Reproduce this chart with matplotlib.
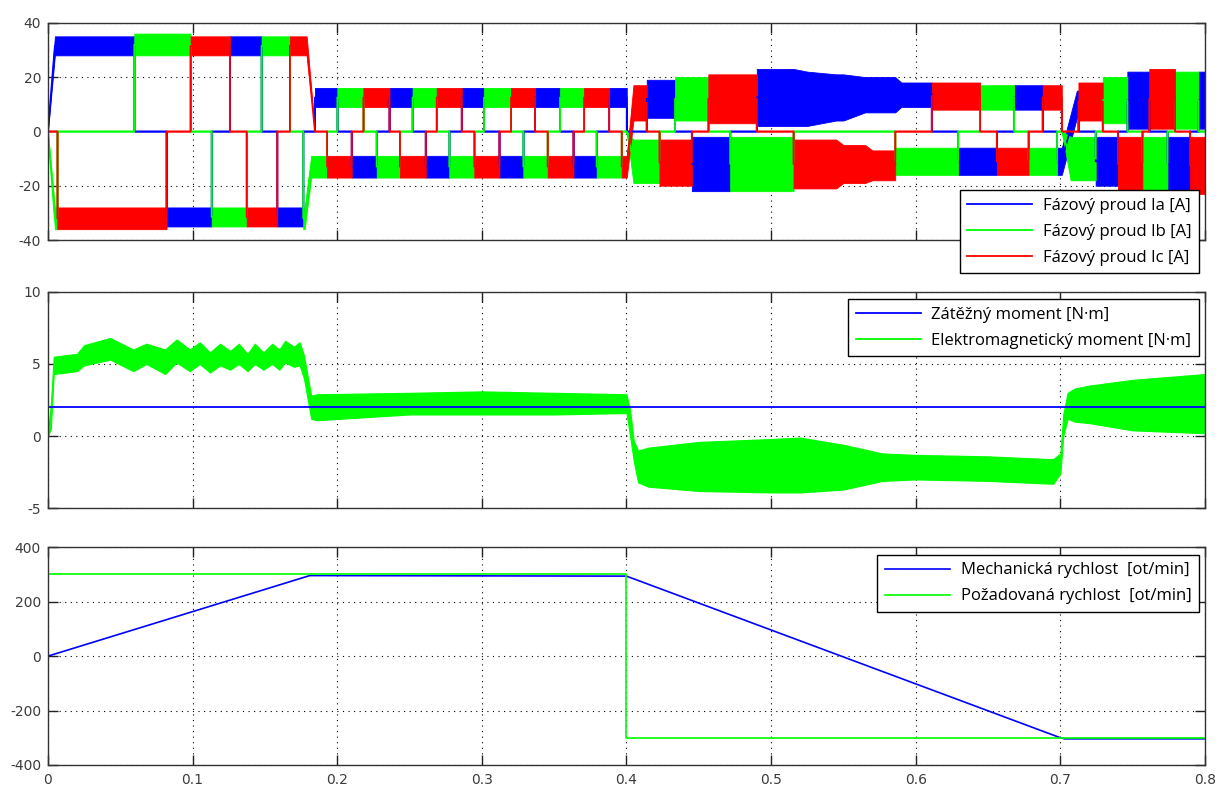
import numpy as np
import matplotlib
matplotlib.use("Agg")
import matplotlib.pyplot as plt

plt.rcParams["axes.unicode_minus"] = False

# --- phase currents --------------------------------------------------------
# start of each conduction interval, conducting phase ('-' = none)
# and the band of the (noisy) current in that interval [A]
pos_t = [0.0048, 0.0597, 0.0986, 0.1258, 0.1477, 0.1673, 0.1846, 0.2001, 0.2181, 0.2361,
         0.2521, 0.2688, 0.2861, 0.3015, 0.3202, 0.3368, 0.3541, 0.3707, 0.3880, 0.4002,
         0.4048, 0.4140, 0.4336, 0.4566, 0.4901, 0.5250, 0.5450, 0.5650, 0.5900, 0.6111,
         0.6445, 0.6680, 0.6878, 0.7010, 0.7090, 0.7125, 0.7293, 0.7463, 0.7615, 0.7793,
         0.7954]
pos_ph = list("abcabcabcabcabcabca-cabcaaaaacbac-acbacba")
pos_lo = [28, 28, 28, 28, 28, 28, 9, 9, 9, 9, 9, 9, 9, 9, 9, 9, 9, 9, 9, 0,
          4, 5, 4, 3, 2, 2, 4, 7, 9, 8, 8, 8, 8, 0, 5, 4, 3, 1, 1, 1, 1]
pos_hi = [35, 36, 35, 35, 35, 35, 16, 16, 16, 16, 16, 16, 16, 16, 16, 16, 16, 16, 16, 0,
          17, 19, 20, 21, 23, 22, 21, 20, 18, 18, 17, 17, 17, 0, 15, 18, 20, 22, 23, 22, 22]

neg_t = [0.0020, 0.0065, 0.0820, 0.1132, 0.1374, 0.1585, 0.1765, 0.1820, 0.1930, 0.2100,
         0.2273, 0.2434, 0.2612, 0.2775, 0.2948, 0.3121, 0.3287, 0.3455, 0.3633, 0.3794,
         0.3967, 0.4002, 0.4048, 0.4228, 0.4452, 0.4717, 0.5155, 0.5500, 0.5700, 0.5858,
         0.6293, 0.6561, 0.6780, 0.6977, 0.7010, 0.7071, 0.7244, 0.7398, 0.7567, 0.7740,
         0.7897]
neg_ph = list("bcabcabbcabcabcabcabc-bcabcccbacba-bacbac")
neg_lo = [-36, -36, -35, -35, -35, -35, -36, -17, -17, -17, -17, -17, -17, -17, -17, -17,
          -17, -17, -17, -17, -17, 0, -19, -20, -22, -22, -21, -19, -18, -16, -16, -16,
          -16, -16, 0, -18, -20, -22, -22, -22, -23]
neg_hi = [-28, -28, -28, -28, -28, -28, -28, -9, -9, -9, -9, -9, -9, -9, -9, -9,
          -9, -9, -9, -9, -9, 0, -3, -3, -2, -2, -3, -5, -7, -6, -6, -6,
          -6, -6, 0, -2, -2, -2, -2, -2, -2]

# intervals where a phase current slews instead of switching
ramps = [("a", 0.0, 0.0048), ("b", 0.0, 0.0048),
         ("c", 0.1789, 0.1846), ("b", 0.1775, 0.1820),
         ("c", 0.4002, 0.4048), ("b", 0.4002, 0.4048),
         ("a", 0.7010, 0.7114), ("b", 0.7010, 0.7071)]

# --- torques ---------------------------------------------------------------
load_t = [0.0, 0.8]
load_tq = [2.0, 2.0]
em_t = [0.0, 0.002, 0.004, 0.020, 0.025, 0.043, 0.059, 0.068, 0.081, 0.089,
        0.098, 0.105, 0.112, 0.119, 0.126, 0.132, 0.138, 0.143, 0.149, 0.155,
        0.160, 0.164, 0.170, 0.174, 0.177, 0.182, 0.186, 0.25, 0.30, 0.35,
        0.40, 0.4025, 0.405, 0.408, 0.415, 0.45, 0.50, 0.52, 0.55, 0.577,
        0.60, 0.65, 0.695, 0.700, 0.702, 0.705, 0.71, 0.72, 0.75, 0.80]
em_lo = [0.0, 0.5, 4.3, 4.5, 4.9, 5.3, 4.5, 5.0, 4.3, 5.1,
         4.5, 5.0, 4.4, 4.9, 4.6, 5.0, 4.5, 5.0, 4.6, 5.0,
         4.6, 5.1, 4.8, 4.9, 4.0, 1.2, 1.1, 1.5, 1.5, 1.5,
         1.6, 0.0, -1.7, -3.2, -3.5, -3.8, -3.9, -3.9, -3.7, -3.1,
         -3.0, -3.1, -3.3, -2.6, 0.0, 1.2, 1.0, 0.9, 0.4, 0.2]
em_hi = [0.2, 2.2, 5.5, 5.7, 6.3, 6.8, 6.0, 6.4, 6.0, 6.7,
         6.0, 6.5, 5.8, 6.4, 5.9, 6.4, 5.7, 6.4, 5.8, 6.4,
         6.0, 6.6, 6.2, 6.5, 5.6, 2.8, 2.9, 3.0, 3.1, 3.0,
         2.9, 1.8, -0.3, -1.0, -0.8, -0.4, -0.2, -0.1, -0.6, -1.2,
         -1.3, -1.4, -1.6, -1.2, 1.5, 3.0, 3.3, 3.5, 3.9, 4.3]

# --- speed -----------------------------------------------------------------
spd_t = [0.0, 0.181, 0.40, 0.70, 0.703, 0.80]
spd = [0, 296, 294, -300, -304, -304]
ref_t = [0.0, 0.40, 0.40, 0.80]
ref = [300, 300, -300, -300]

BLUE, GREEN, RED = (0, 0, 1), (0, 1, 0), (1, 0, 0)


def band(ph, t, strict):
    """current band (lo, hi) of phase ph just before (strict) or after t"""
    lo, hi = 0.0, 0.0
    for times, phs, los, his in ((pos_t, pos_ph, pos_lo, pos_hi),
                                 (neg_t, neg_ph, neg_lo, neg_hi)):
        idx = [i for i, tt in enumerate(times) if (tt < t if strict else tt <= t)]
        if idx and phs[idx[-1]] == ph:
            lo, hi = los[idx[-1]], his[idx[-1]]
    return lo, hi


def phase_trace(ph):
    edges = sorted(set([0.0, 0.8] + pos_t + neg_t))
    segs = [(ta, tb) + band(ph, ta, False) for ta, tb in zip(edges[:-1], edges[1:])]
    verts = []
    for i, (ta, tb, lo, hi) in enumerate(segs):
        verts.append((ta, lo, hi))
        nxt = segs[i + 1] if i + 1 < len(segs) else None
        # same conduction continuing: let the envelope run on smoothly
        if nxt and np.sign(lo + hi) != 0 and np.sign(lo + hi) == np.sign(nxt[2] + nxt[3]):
            continue
        verts.append((tb, lo, hi))
    for rp, t0, t1 in ramps:
        if rp != ph:
            continue
        verts = ([v for v in verts if v[0] < t0]
                 + [(t0,) + band(ph, t0, True), (t1,) + band(ph, t1, False)]
                 + [v for v in verts if v[0] > t1])
    v = np.array(verts, dtype=float)
    return v[:, 0], v[:, 1], v[:, 2]


def style(ax, ylim, yticks, show_x):
    ax.set_xlim(0, 0.8)
    ax.set_ylim(*ylim)
    ax.set_xticks(np.arange(0, 0.81, 0.1))
    ax.set_yticks(yticks)
    ax.set_yticklabels([str(y) for y in yticks])
    if show_x:
        ax.set_xticklabels(["0", "0.1", "0.2", "0.3", "0.4", "0.5", "0.6", "0.7", "0.8"])
    else:
        ax.set_xticklabels([])
    ax.set_axisbelow(True)
    ax.grid(True, color="k", linestyle=(0, (1, 4)), linewidth=0.8)
    ax.tick_params(direction="in", length=7.5, width=1.0, top=True, right=True,
                   labelsize=10, labelcolor="#3c3c3c", color="#222222")
    ax.tick_params(axis="x", pad=5.5)
    ax.tick_params(axis="y", pad=5)
    for s in ax.spines.values():
        s.set_color("#333333")
        s.set_linewidth(1.0)


def legend(ax, anchor):
    leg = ax.legend(loc="upper right", bbox_to_anchor=anchor, fancybox=False,
                    framealpha=1, edgecolor="k", handlelength=3.9, handletextpad=0.65,
                    labelspacing=0.6, borderpad=0.45, borderaxespad=0,
                    prop={"family": "Open Sans", "size": 12})
    leg.get_frame().set_linewidth(1.0)
    leg.set_zorder(10)


fig = plt.figure(figsize=(12.2, 7.87), dpi=100)
ax1 = fig.add_axes([0.0393, 0.6950, 0.9484, 0.2761])
ax2 = fig.add_axes([0.0393, 0.3541, 0.9484, 0.2752])
ax3 = fig.add_axes([0.0393, 0.0280, 0.9484, 0.2766])

# phase currents
for ph, col, name in (("a", BLUE, "Fázový proud Ia [A]"),
                      ("b", GREEN, "Fázový proud Ib [A]"),
                      ("c", RED, "Fázový proud Ic [A]")):
    t, lo, hi = phase_trace(ph)
    ax1.fill_between(t, lo, hi, color=col, linewidth=0.6)
    ax1.plot(t, (lo + hi) / 2, color=col, linewidth=1.3, label=name)
style(ax1, (-40, 40), [-40, -20, 0, 20, 40], False)
legend(ax1, (0.9948, 0.230))

# torques
ax2.plot(load_t, load_tq, color=BLUE, linewidth=1.3, label="Zátěžný moment [N·m]")
ax2.fill_between(em_t, em_lo, em_hi, color=GREEN, linewidth=0.8)
ax2.plot([], [], color=GREEN, linewidth=1.3, label="Elektromagnetický moment [N·m]")
style(ax2, (-5, 10), [-5, 0, 5, 10], False)
legend(ax2, (0.9948, 0.966))

# speed
ax3.plot(spd_t, spd, color=BLUE, linewidth=1.2, label="Mechanická rychlost  [ot/min]")
ax3.plot(ref_t, ref, color=GREEN, linewidth=1.2, label="Požadovaná rychlost  [ot/min]")
style(ax3, (-400, 400), [-400, -200, 0, 200, 400], True)
legend(ax3, (0.9948, 0.9646))

fig.savefig("out.png", dpi=100)
